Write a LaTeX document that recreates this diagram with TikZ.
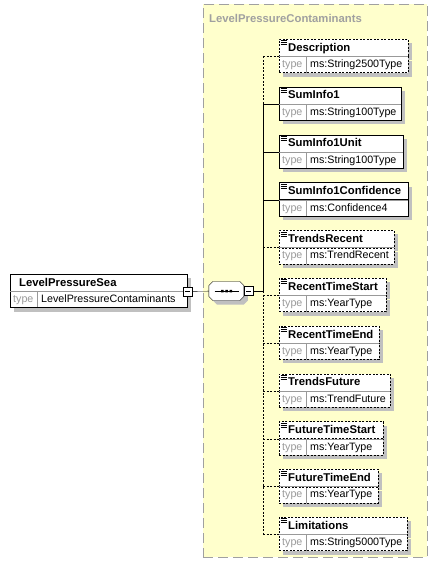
\documentclass[tikz,border=0pt]{standalone}
\usepackage{fontspec}
\setmainfont{Liberation Sans}
\usetikzlibrary{shadows}

\definecolor{panelfill}{HTML}{FFFFCC}
\definecolor{panelline}{HTML}{A0A0A0}
\definecolor{shadowgray}{HTML}{C0C0C0}
\definecolor{typegray}{HTML}{999999}

\begin{document}
\begin{tikzpicture}[x=1pt,y=-1pt,font=\fontsize{10.7}{12}\selectfont]
    \tikzset{
        boxshadow/.style={
            general shadow={fill=shadowgray, shadow xshift=4pt, shadow yshift=-4pt}
        },
        elname/.style={
            draw, fill=white, boxshadow, anchor=north west,
            minimum height=17, text width=#1pt, align=left,
            inner xsep=0, inner ysep=0, text height=8.5, text depth=1.5,
            font=\fontsize{11.3}{13}\selectfont\bfseries,
            execute at begin node=\hspace*{9pt}
        },
        docname/.style={
            elname=#1,
            path picture={
                \draw[solid, line width=0.8]
                    ([shift={(1.5,1.5)}]path picture bounding box.north west) -- ++(6,0)
                    ([shift={(1.5,3.5)}]path picture bounding box.north west) -- ++(6,0)
                    ([shift={(1.5,5.5)}]path picture bounding box.north west) -- ++(6,0);
            }
        },
        typerow/.style={
            draw, fill=white, boxshadow, anchor=north west,
            minimum height=16, text width=#1pt, align=left,
            inner xsep=0, inner ysep=0, text height=8, text depth=2,
            execute at begin node={\hspace*{3pt}\makebox[28pt][l]{\color{typegray}type}},
            path picture={
                \draw[solid, typegray] ([xshift=27pt]path picture bounding box.south west)
                    -- ([xshift=27pt]path picture bounding box.north west);
            },
            append after command={(\tikzlastnode.north west) edge[solid, typegray] (\tikzlastnode.north east)}
        },
        optional/.style={dash pattern=on 2pt off 1.5pt},
        seq/.style={minimum width=35, minimum height=19, inner sep=0},
        octagon/.style={
            insert path={++(0,-5.5) -- ++(4,-4) -- ++(27,0) -- ++(4,4) -- ++(0,11)
                -- ++(-4,4) -- ++(-27,0) -- ++(-4,-4) -- cycle}
        },
        minus/.style={
            draw, fill=white, minimum size=9, inner sep=0,
            path picture={
                \draw ([xshift=2pt]path picture bounding box.west)
                    -- ([xshift=-2pt]path picture bounding box.east);
            }
        }
    }

    \useasboundingbox (0,0) rectangle (437,564);

    % group of the complex type
    \node[draw=panelline, fill=panelfill, dash pattern=on 10pt off 5pt, line width=0.8,
        minimum width=224, minimum height=553, anchor=north west, inner sep=0] (grp) at (203,4) {};
    \node[anchor=base west, inner sep=0, text=panelline,
        font=\fontsize{11.3}{13}\selectfont\bfseries] (grpname) at (209,23) {LevelPressureContaminants};

    % root element and sequence
    \node[elname=177] (root) at (10,274) {LevelPressureSea};
    \node[typerow=177] (roott) at (root.south west) {LevelPressureContaminants};
    \node[minus] (rootmin) at (root.south east) {};
    \node[seq] (seq) at (226.5,291) {};
    \fill[shadowgray] ([xshift=4pt,yshift=-4pt]seq.west) [octagon];
    \filldraw[fill=white] (seq.west) [octagon];
    \draw ([xshift=-12pt]seq.center) -- ([xshift=12pt]seq.center);
    \fill ([xshift=-5.5pt,yshift=1.25pt]seq.center) rectangle ++(2.5,2.5)
        ([xshift=-1.25pt,yshift=1.25pt]seq.center) rectangle ++(2.5,2.5)
        ([xshift=3pt,yshift=1.25pt]seq.center) rectangle ++(2.5,2.5);
    \node[minus, anchor=west] (seqmin) at (seq.east) {};
    \coordinate (comb) at (263,291);

    % children
    \node[docname=129, optional] (desc) at (279,39) {Description};
    \node[typerow=129, optional] (desct) at (desc.south west) {ms:String2500Type};
    \node[docname=122] (sum1) at ([yshift=-14pt] desct.south west) {SumInfo1};
    \node[typerow=122] (sum1t) at (sum1.south west) {ms:String100Type};
    \node[docname=124] (sum1u) at ([yshift=-14pt] sum1t.south west) {SumInfo1Unit};
    \node[typerow=124] (sum1ut) at (sum1u.south west) {ms:String100Type};
    \node[docname=129] (sum1c) at ([yshift=-14pt] sum1ut.south west) {SumInfo1Confidence};
    \node[typerow=129] (sum1ct) at (sum1c.south west) {ms:Confidence4};
    \node[docname=115, optional] (trrec) at ([yshift=-14pt] sum1ct.south west) {TrendsRecent};
    \node[typerow=115, optional] (trrect) at (trrec.south west) {ms:TrendRecent};
    \node[docname=107, optional] (rtstart) at ([yshift=-14pt] trrect.south west) {RecentTimeStart};
    \node[typerow=107, optional] (rtstartt) at (rtstart.south west) {ms:YearType};
    \node[docname=100, optional] (rtend) at ([yshift=-14pt] rtstartt.south west) {RecentTimeEnd};
    \node[typerow=100, optional] (rtendt) at (rtend.south west) {ms:YearType};
    \node[docname=111, optional] (trfut) at ([yshift=-14pt] rtendt.south west) {TrendsFuture};
    \node[typerow=111, optional] (trfutt) at (trfut.south west) {ms:TrendFuture};
    \node[docname=104, optional] (ftstart) at ([yshift=-14pt] trfutt.south west) {FutureTimeStart};
    \node[typerow=104, optional] (ftstartt) at (ftstart.south west) {ms:YearType};
    \node[docname=99, optional] (ftend) at ([yshift=-14pt] ftstartt.south west) {FutureTimeEnd};
    \node[typerow=99, optional] (ftendt) at (ftend.south west) {ms:YearType};
    \node[docname=128, optional] (limit) at ([yshift=-14pt] ftendt.south west) {Limitations};
    \node[typerow=128, optional] (limitt) at (limit.south west) {ms:String5000Type};

    % connectors
    \draw (rootmin) -- (seq);
    \draw (seqmin) -- (comb);
    \draw[optional] (comb |- desc.south west) -- (comb |- sum1.south west);
    \draw (comb |- sum1.south west) -- (comb);
    \draw[optional] (comb) -- (comb |- limit.south west);
    \draw[optional] (comb |- desc.south west) -- (desc.south west);
    \draw (comb |- sum1.south west) -- (sum1.south west);
    \draw (comb |- sum1u.south west) -- (sum1u.south west);
    \draw (comb |- sum1c.south west) -- (sum1c.south west);
    \draw[optional] (comb |- trrec.south west) -- (trrec.south west);
    \draw[optional] (comb |- rtstart.south west) -- (rtstart.south west);
    \draw[optional] (comb |- rtend.south west) -- (rtend.south west);
    \draw[optional] (comb |- trfut.south west) -- (trfut.south west);
    \draw[optional] (comb |- ftstart.south west) -- (ftstart.south west);
    \draw[optional] (comb |- ftend.south west) -- (ftend.south west);
    \draw[optional] (comb |- limit.south west) -- (limit.south west);
\end{tikzpicture}
\end{document}
